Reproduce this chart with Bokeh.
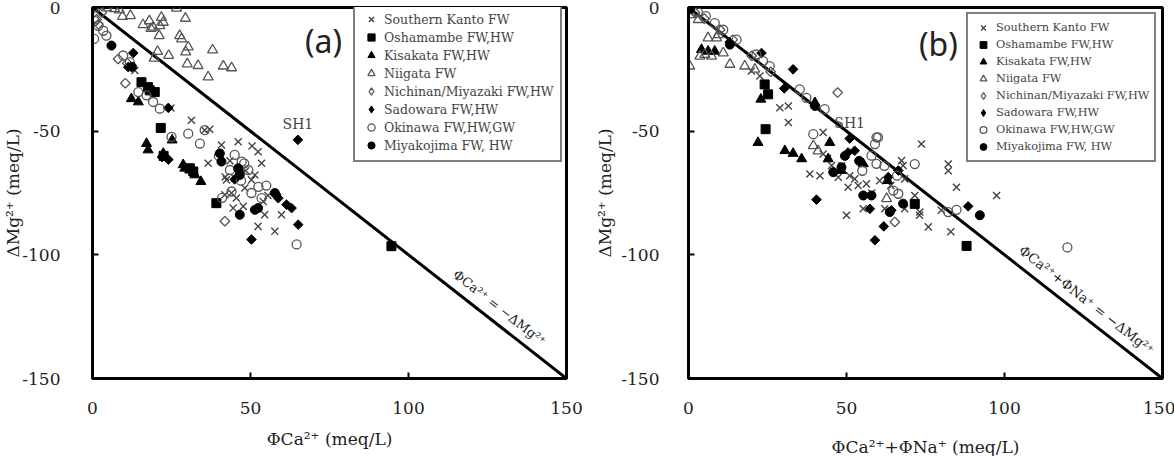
import math
import numpy as np
from bokeh.plotting import figure
from bokeh.layouts import row
from bokeh.models import Legend, LegendItem, Label, FixedTicker, Range1d
from bokeh.embed import file_html
from bokeh.resources import INLINE

SERIF = "DejaVu Serif"

SERIES = ["Southern Kanto FW", "Oshamambe FW,HW", "Kisakata FW,HW", "Niigata FW",
          "Nichinan/Miyazaki FW,HW", "Sadowara FW,HW", "Okinawa FW,HW,GW", "Miyakojima FW, HW"]

X_TICKS = [0, 50, 100, 150]
Y_TICKS = [0, -50, -100, -150]

# ---------------- panel (a): PhiCa vs dMg ----------------
kanto_a_x = [13.4, 24.8, 31.3, 35.5, 37.1, 36.6, 40.8, 46.1, 52.4, 53.5, 51.4, 42.4, 44.0, 41.9, 48.2,
             47.7, 44.5, 54.5, 52.4, 57.7, 59.8, 54.0, 50.3, 45.0, 48.5, 43.5, 50.5, 45.5, 55.5, 42.0]
kanto_a_y = [-25.5, -40.6, -45.6, -49.6, -49.2, -63.0, -55.6, -54.3, -58.3, -63.0, -67.7, -69.7, -75.0,
             -75.7, -73.0, -80.4, -81.1, -83.8, -88.5, -90.5, -83.8, -78.4, -69.7, -69.0, -66.0, -62.0,
             -56.0, -77.0, -76.0, -68.5]
osha_a_x = [15.5, 17.6, 19.7, 18.1, 21.6, 30.8, 31.9, 39.2, 94.6, 22.5]
osha_a_y = [-30.2, -32.2, -34.2, -33.5, -48.7, -65.0, -66.3, -79.1, -96.5, -60.0]
kisa_a_x = [12.3, 14.5, 17.1, 17.6, 25.2, 22.4, 28.7, 30.8, 32.4, 34.3, 29.2]
kisa_a_y = [-36.9, -38.2, -55.0, -57.6, -53.6, -59.0, -63.6, -65.7, -67.7, -70.4, -65.0]
niig_a_x = [26.6, 9.5, 12.0, 16.0, 18.0, 19.2, 21.8, 22.4, 21.3, 18.5, 29.4, 21.1, 27.6, 28.2, 30.3,
            29.5, 38.0, 20.6, 24.1, 19.5, 30.0, 33.4, 41.4, 44.0, 36.6, 4.4, 7.0, 8.5]
niig_a_y = [-0.3, -3.6, -3.3, -7.0, -5.4, -8.0, -4.0, -6.0, -7.4, -8.5, -4.4, -11.4, -11.4, -12.7, -16.0,
            -18.0, -17.2, -17.8, -19.4, -20.5, -22.8, -23.5, -23.7, -24.4, -28.1, -0.2, -0.5, -1.0]
nich_a_x = [8.1, 10.4, 41.9, 0.3, 1.3, 1.9, 3.0, 11.0]
nich_a_y = [-20.8, -30.6, -86.4, -0.5, -4.8, -6.8, -2.0, -22.5]
sado_a_x = [12.9, 11.3, 24.0, 65.0, 65.1, 50.3, 61.4, 63.0, 58.8, 58.2, 46.6, 45.0, 22.0, 24.0]
sado_a_y = [-18.4, -24.1, -40.6, -53.5, -87.8, -93.8, -79.7, -81.1, -77.1, -75.7, -66.3, -69.5, -60.5, -61.5]
okin_a_x = [0.7, 1.8, 3.4, 4.4, 0.5, 9.7, 11.8, 14.5, 17.1, 19.2, 21.3, 25.0, 30.3, 34.0, 35.5, 64.6,
            44.0, 53.5, 40.0, 47.2, 49.3, 45.0, 43.5, 50.3, 47.0, 52.5, 48.0, 55.0, 41.0]
okin_a_y = [-5.4, -7.4, -9.4, -11.4, -12.7, -19.4, -22.1, -34.2, -35.5, -38.2, -40.9, -52.3, -51.0, -55.0,
            -49.6, -95.8, -74.4, -77.1, -60.0, -62.3, -65.7, -59.6, -65.7, -75.0, -70.0, -72.5, -63.0,
            -72.0, -77.0]
miya_a_x = [6.0, 40.3, 40.8, 46.6, 46.1, 46.6, 51.4, 52.4, 57.7, 12.5]
miya_a_y = [-15.4, -59.0, -62.3, -67.7, -65.0, -83.8, -81.8, -81.1, -75.0, -24.0]

# ---------------- panel (b): PhiCa + PhiNa vs dMg ----------------
kanto_b_x = [73.7, 82.2, 82.2, 84.8, 97.5, 83.0, 75.9, 50.0, 38.4, 41.6, 28.9, 31.6, 31.6, 42.6, 19.9,
             22.6, 55.3, 50.5, 53.7, 56.3, 42.6, 45.3, 47.4, 51.0, 52.6, 62.1, 68.4, 73.1, 80.0, 67.4,
             67.9, 68.4, 71.6, 73.2, 44.0, 48.5, 58.0, 60.5, 64.0]
kanto_b_y = [-55.2, -63.3, -66.0, -72.7, -76.0, -90.7, -88.7, -84.0, -67.3, -68.0, -40.5, -39.8, -46.5,
             -50.5, -25.7, -27.7, -81.4, -72.7, -72.0, -71.3, -59.2, -63.9, -68.6, -68.0, -69.3, -81.4,
             -81.4, -84.0, -82.0, -61.9, -63.9, -69.3, -76.0, -82.7, -61.0, -64.0, -75.0, -70.0, -72.0]
osha_b_x = [0.3, 24.1, 25.2, 24.4, 71.6, 88.0]
osha_b_y = [-0.5, -31.1, -35.1, -49.2, -79.4, -96.4]
kisa_b_x = [4.1, 6.2, 8.3, 22.9, 22.0, 30.5, 33.1, 35.8, 44.7, 44.2, 55.3, 48.4, 40.0, 63.0]
kisa_b_y = [-17.0, -17.7, -17.7, -37.1, -54.6, -57.9, -59.0, -61.2, -54.6, -61.2, -63.2, -65.9, -38.5, -70.0]
niig_b_x = [0.4, 1.0, 3.1, 3.6, 5.2, 7.3, 6.2, 9.4, 13.1, 17.8, 21.0, 8.9, 11.0, 39.5, 62.7, 41.0]
niig_b_y = [-23.7, -2.9, -4.9, -19.7, -19.0, -19.7, -12.3, -11.0, -23.0, -23.7, -25.0, -12.3, -18.4,
            -55.9, -77.3, -58.0]
nich_b_x = [47.2, 65.3, 2.0, 5.0, 10.0, 14.0, 20.0, 26.0]
nich_b_y = [-34.4, -86.7, -2.0, -4.5, -9.0, -13.0, -19.5, -26.0]
sado_b_x = [33.1, 23.1, 30.3, 40.5, 59.0, 61.8, 51.0, 88.5, 57.4, 64.2, 63.2, 66.4, 50.5, 52.6, 13.0]
sado_b_y = [-25.0, -18.4, -32.7, -77.7, -94.1, -88.5, -53.0, -80.4, -81.4, -82.0, -68.6, -65.9, -58.6,
            -57.9, -14.0]
okin_b_x = [119.9, 71.6, 84.8, 82.2, 39.5, 59.5, 59.0, 57.9, 59.5, 64.8, 66.4, 35.2, 37.3, 43.1, 8.3,
            11.0, 15.2, 21.5, 23.6, 25.7, 60.0, 3.0, 5.5, 62.0, 66.0, 55.0]
okin_b_y = [-97.0, -63.3, -81.8, -82.7, -51.2, -52.5, -55.2, -59.9, -63.2, -74.0, -75.3, -33.1, -36.5,
            -41.1, -6.3, -9.0, -13.0, -19.0, -21.7, -23.7, -52.5, -2.0, -3.5, -64.0, -68.0, -66.0]
miya_b_x = [92.2, 55.3, 57.9, 67.9, 45.8, 48.4, 63.7, 40.0, 13.1, 0.5, 49.5, 54.0]
miya_b_y = [-84.0, -76.0, -76.0, -79.3, -66.6, -64.6, -82.7, -39.8, -15.0, -0.5, -60.0, -62.0]

# the SH1 sample (Sadowara) in each panel
sh1_a = (65.0, -53.5)
sh1_b = (51.0, -53.0)

QUARTER = math.pi / 4
STYLE = {
    "Southern Kanto FW": dict(marker="x", size=10, line_color="#444444", fill_color=None, line_width=1.4),
    "Oshamambe FW,HW": dict(marker="square", size=9, line_color="black", fill_color="black"),
    "Kisakata FW,HW": dict(marker="triangle", size=10, line_color="black", fill_color="black"),
    "Niigata FW": dict(marker="triangle", size=10, line_color="#555555", fill_color=None, line_width=1.3),
    "Nichinan/Miyazaki FW,HW": dict(marker="square", angle=QUARTER, size=6.8, line_color="#555555",
                                    fill_color=None, line_width=1.3),
    "Sadowara FW,HW": dict(marker="square", angle=QUARTER, size=6.8, line_color="black",
                           fill_color="black"),
    "Okinawa FW,HW,GW": dict(marker="circle", size=9, line_color="#555555", fill_color=None, line_width=1.3),
    "Miyakojima FW, HW": dict(marker="circle", size=9, line_color="black", fill_color="black"),
}

FRAME_W, FRAME_H = 474, 371
NO_POINT = np.array([np.nan])


def make_panel(data, xlabel, xlabel_standoff, left, right, ylab_standoff, ytick_standoff,
               tag, tag_xy, sh1, line_text, line_text_xy, line_text_size,
               legend_loc, legend_size, legend_pad, legend_h):
    p = figure(frame_width=FRAME_W, frame_height=FRAME_H,
               x_range=Range1d(X_TICKS[0], X_TICKS[-1]), y_range=Range1d(Y_TICKS[-1], Y_TICKS[0]),
               output_backend="svg", toolbar_location=None,
               min_border_left=left, min_border_right=right, min_border_top=7, min_border_bottom=78)
    p.background_fill_color = "white"
    p.border_fill_color = "white"
    p.outline_line_color = "black"
    p.outline_line_width = 3
    p.grid.visible = False

    for ax, ticks in ((p.xaxis, X_TICKS), (p.yaxis, Y_TICKS)):
        ax.ticker = FixedTicker(ticks=ticks)
        ax.major_label_overrides = {t: str(t) for t in ticks}
        ax.axis_line_width = 3
        ax.axis_line_color = "black"
        ax.major_tick_in = 6
        ax.major_tick_out = 0
        ax.major_tick_line_width = 2
        ax.minor_tick_line_color = None
        ax.major_label_text_font = SERIF
        ax.major_label_text_font_size = "17px"
        ax.major_label_text_color = "#222222"
        ax.axis_label_text_font = SERIF
        ax.axis_label_text_font_size = "17px"
        ax.axis_label_text_font_style = "normal"
        ax.axis_label_text_color = "#222222"
    p.xaxis.axis_label = xlabel
    p.xaxis.major_label_standoff = 23
    p.xaxis.axis_label_standoff = xlabel_standoff
    p.yaxis.axis_label = "ΔMg²⁺ (meq/L)"
    p.yaxis.major_label_standoff = ytick_standoff
    p.yaxis.axis_label_standoff = ylab_standoff

    # 1:1 exchange line across the whole axis range
    xr = [X_TICKS[0], X_TICKS[-1]]
    p.line(xr, [-v for v in xr], line_color="black", line_width=3)

    items = []
    for name in SERIES:
        xs, ys = data[name]
        style = STYLE[name]
        r = p.scatter(xs, ys, **style)
        if "angle" in style:
            # legend keys are drawn unrotated: use an upright diamond key with no plotted position
            key = {k: v for k, v in style.items() if k != "angle"}
            key["marker"] = "diamond"
            r = p.scatter(NO_POINT, NO_POINT, **key)
        items.append(LegendItem(label=name, renderers=[r]))

    legend = Legend(items=items, location=legend_loc, orientation="vertical",
                    label_text_font=SERIF, label_text_font_size=legend_size,
                    label_text_color="#444444", label_height=legend_h, glyph_height=legend_h,
                    glyph_width=20, label_standoff=3, spacing=0, padding=legend_pad, margin=0,
                    border_line_color="black", border_line_width=2,
                    background_fill_color="white", background_fill_alpha=1.0)
    p.add_layout(legend)

    p.add_layout(Label(x=tag_xy[0], y=tag_xy[1], text=tag, text_font="Noto Sans",
                       text_font_size="32px", text_color="#222222",
                       text_align="center", text_baseline="middle"))
    p.add_layout(Label(x=sh1[0], y=sh1[1] + 6.5, text="SH1", text_font=SERIF,
                       text_font_size="14px", text_color="#444444",
                       text_align="center", text_baseline="middle"))
    angle = -math.atan2(FRAME_H, FRAME_W)
    p.add_layout(Label(x=line_text_xy[0], y=line_text_xy[1], text=line_text, text_font=SERIF,
                       text_font_size=line_text_size, text_color="#222222", angle=angle,
                       text_align="center", text_baseline="middle"))
    return p


data_a = {
    SERIES[0]: (kanto_a_x, kanto_a_y), SERIES[1]: (osha_a_x, osha_a_y),
    SERIES[2]: (kisa_a_x, kisa_a_y), SERIES[3]: (niig_a_x, niig_a_y),
    SERIES[4]: (nich_a_x, nich_a_y), SERIES[5]: (sado_a_x, sado_a_y),
    SERIES[6]: (okin_a_x, okin_a_y), SERIES[7]: (miya_a_x, miya_a_y),
}
data_b = {
    SERIES[0]: (kanto_b_x, kanto_b_y), SERIES[1]: (osha_b_x, osha_b_y),
    SERIES[2]: (kisa_b_x, kisa_b_y), SERIES[3]: (niig_b_x, niig_b_y),
    SERIES[4]: (nich_b_x, nich_b_y), SERIES[5]: (sado_b_x, sado_b_y),
    SERIES[6]: (okin_b_x, okin_b_y), SERIES[7]: (miya_b_x, miya_b_y),
}

pa = make_panel(data_a, "ΦCa²⁺ (meq/L)", 12, 91, 25, -4, 32, "(a)", (73.1, -13.3), sh1_a,
                "ΦCa²⁺ = −ΔMg²⁺", (128.8, -121.4), "13px", (261, 216), "12.5px", 6, 18)
pb = make_panel(data_b, "ΦCa²⁺+ΦNa⁺ (meq/L)", 20, 97, 13, 3, 29, "(b)", (79.1, -14.5), sh1_b,
                "ΦCa²⁺+ΦNa⁺ = −ΔMg²⁺", (126.0, -118.2), "13.5px", (278, 216), "11.3px", 5, 17)

layout = row(pa, pb)
open("out.html", "w").write(file_html(layout, INLINE))
